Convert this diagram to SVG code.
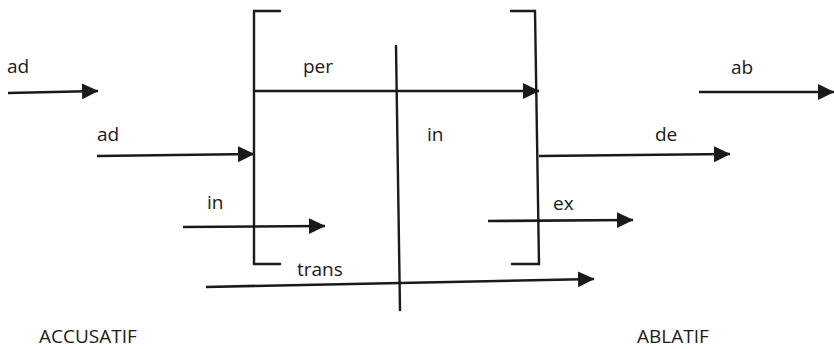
<svg xmlns="http://www.w3.org/2000/svg" width="834" height="349" viewBox="0 0 834 349">
<style>
text{font-family:"Open Sans","Noto Sans","DejaVu Sans",sans-serif;font-size:19px;fill:#1a1a1a}
.ln{stroke:#1a1a1a;stroke-width:2.4;fill:none;stroke-linecap:round}
.ar{stroke:#1a1a1a;stroke-width:2.7;fill:none;marker-end:url(#ah)}
</style>
<defs>
<marker id="ah" markerUnits="userSpaceOnUse" markerWidth="17" markerHeight="17" viewBox="0 0 17 17" refX="16" refY="8.5" orient="auto">
<path d="M0,0.5 L16.5,8.5 L0,16.5 z" fill="#1a1a1a"/>
</marker>
</defs>
<rect width="834" height="349" fill="#fff"/>
<g id="brackets">
<g id="left-bracket"><path class="ln" d="M280,11 H254 V264 H280"/></g>
<g id="right-bracket"><path class="ln" d="M511,11 H535 L539,264 H512"/></g>
<g id="center-line"><path class="ln" d="M396,46 L400,310"/></g>
</g>
<g id="connectors">
<path class="ar" d="M8,93 L98,91"/>
<path class="ar" d="M97,156 L254,154"/>
<path class="ar" d="M254,91 L539,91"/>
<path class="ar" d="M699,92 L834,92"/>
<path class="ar" d="M539,156 L730,154"/>
<path class="ar" d="M183,227 L325,226"/>
<path class="ar" d="M488,221 L633,220"/>
<path class="ar" d="M206,287 L594,279"/>
</g>
<g id="labels">
<g id="l-ad1"><text x="7" y="73">ad</text></g>
<g id="l-ad2"><text x="97" y="141">ad</text></g>
<g id="l-per"><text x="303" y="73">per</text></g>
<g id="l-in-center"><text x="427" y="141">in</text></g>
<g id="l-ab"><text x="731" y="74">ab</text></g>
<g id="l-de"><text x="655" y="141">de</text></g>
<g id="l-in-low"><text x="207" y="209">in</text></g>
<g id="l-ex"><text x="553" y="210">ex</text></g>
<g id="l-trans"><text x="297" y="276">trans</text></g>
<g id="l-acc"><text x="39" y="343">ACCUSATIF</text></g>
<g id="l-abl"><text x="637" y="343">ABLATIF</text></g>
</g>
</svg>
